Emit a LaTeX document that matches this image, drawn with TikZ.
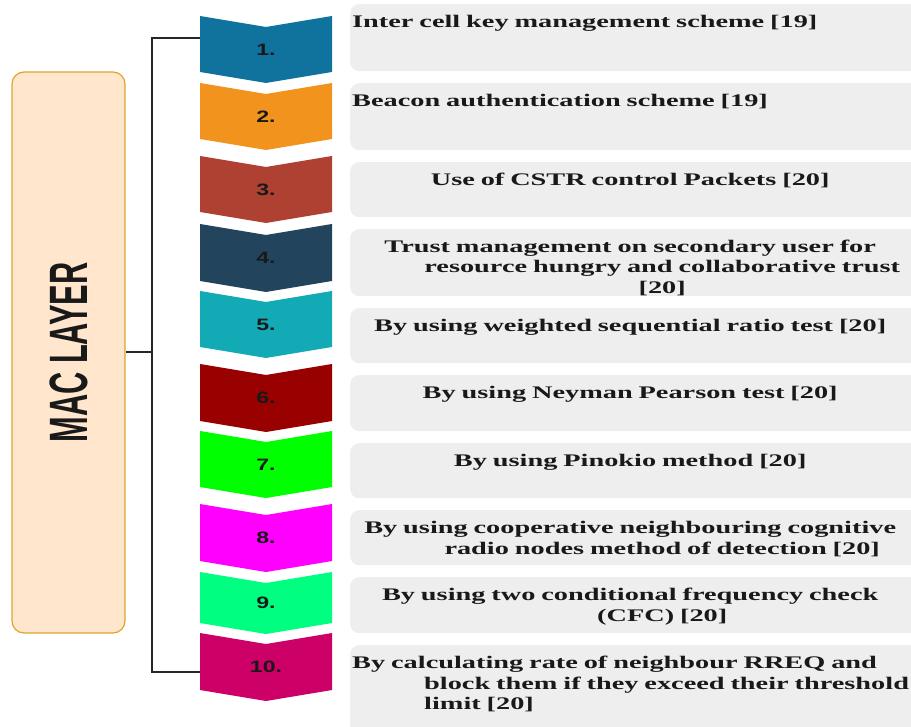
\documentclass[tikz,border=0pt]{standalone}
\usepackage{fontspec}
\usepackage{xcolor}
\definecolor{mblue}{HTML}{10739E}
\definecolor{morange}{HTML}{F2931E}
\definecolor{mbrick}{HTML}{AE4132}
\definecolor{mnavy}{HTML}{23445D}
\definecolor{mteal}{HTML}{12AAB5}
\definecolor{mred}{HTML}{990000}
\definecolor{mlime}{HTML}{00FF00}
\definecolor{mpink}{HTML}{FF00FF}
\definecolor{mmint}{HTML}{00FF80}
\definecolor{mrose}{HTML}{CC0066}
\definecolor{boxgray}{HTML}{EEEEEE}
\definecolor{macfill}{HTML}{FFE6CC}
\definecolor{macedge}{HTML}{DDA530}
\newfontfamily\boxfont{Liberation Serif}[FakeStretch=1.6]
\newfontfamily\numfont{Liberation Sans}[FakeStretch=1.4]
\newfontfamily\macfont{Liberation Sans}[FakeStretch=0.57]
\usepackage{tikz}
\usetikzlibrary{positioning, calc}
\tikzstyle{macbox} = [draw=macedge, fill=macfill, line width=1.2pt, rounded corners=12pt, text=black!90, font=\macfont\bfseries\fontsize{54}{60}\selectfont]
\tikzstyle{item} = [fill=boxgray, rounded corners=9pt, inner sep=0pt]
\tikzstyle{itemtext} = [anchor=base west, inner sep=0pt, text width=556pt, text=black!90, font=\boxfont\bfseries\fontsize{17.7}{20.5}\selectfont]
\tikzstyle{num} = [inner sep=0pt, text=black!90, font=\numfont\bfseries\fontsize{16.5}{19}\selectfont]
\tikzstyle{link} = [draw=black!85, line width=2pt]
\newcommand{\midhang}[2]{\hangindent=#1\hangafter=1\leftskip=0pt plus 1fil\rightskip=0pt plus 1fil\parfillskip=0pt\relax #2\par}
\newcommand{\lefthang}[2]{\hangindent=#1\hangafter=1\rightskip=0pt plus 1fil\parfillskip=0pt plus 1fil\relax #2\par}
\begin{document}
\begin{tikzpicture}[x=1pt, y=-1pt]
    \useasboundingbox (0,0) rectangle (911,727);

    % layer box
    \node[macbox, rotate=90, minimum width=561pt, minimum height=113pt] (mac) at (68.5,352.5) {MAC LAYER};

    % chevrons
    \foreach \t/\b/\col [count=\i] in {16/72/mblue, 83/139/morange, 156/212/mbrick, 224/281/mnavy, 291/347/mteal, 364/421/mred, 431/487/mlime, 504/561/mpink, 572/623/mmint, 633/690/mrose}{
        \fill[\col] (200,\t) -- (266,\t+11) -- (332,\t) -- (332,\b) -- (266,\b+11) -- (200,\b) -- cycle;
        \node[num] (c\i) at (266,{(\t+\b+11)/2}) {\i.};
    }

    % item boxes
    \foreach \t/\b [count=\i] in {4/71, 83/150, 162/217, 229/296, 308/363, 375/431, 443/498, 510/565, 577/633, 645/745}{
        \node[item, anchor=north west, minimum width=585pt, minimum height={(\b-\t)*1pt}] (b\i) at (350,\t) {};
    }

    % item texts
    \node[itemtext] (x1) at ($(b1.north west)+(2,23.5)$) {Inter cell key management scheme [19]};
    \node[itemtext] (x2) at ($(b2.north west)+(2,23.5)$) {Beacon authentication scheme [19]};
    \node[itemtext] (x3) at ($(b3.north west)+(2,23.5)$) {\midhang{64pt}{Use of CSTR control Packets [20]}};
    \node[itemtext] (x4) at ($(b4.north west)+(2,23.5)$)
    {\midhang{64pt}{\mbox{Trust management on secondary user for}\break \mbox{resource hungry and collaborative trust}\break [20]}};
    \node[itemtext] (x5) at ($(b5.north west)+(2,23.5)$) {\midhang{64pt}{By using weighted sequential ratio test [20]}};
    \node[itemtext] (x6) at ($(b6.north west)+(2,23.5)$) {\midhang{64pt}{By using Neyman Pearson test [20]}};
    \node[itemtext] (x7) at ($(b7.north west)+(2,23.5)$) {\midhang{64pt}{By using Pinokio method [20]}};
    \node[itemtext] (x8) at ($(b8.north west)+(2,23.5)$)
    {\midhang{64pt}{\mbox{By using cooperative neighbouring cognitive}\break \mbox{radio nodes method of detection [20]}}};
    \node[itemtext] (x9) at ($(b9.north west)+(2,23.5)$)
    {\midhang{64pt}{\mbox{By using two conditional frequency check}\break (CFC) [20]}};
    \node[itemtext] (x10) at ($(b10.north west)+(2,23.5)$)
    {\lefthang{72pt}{\mbox{By calculating rate of neighbour RREQ and}\break \mbox{block them if they exceed their threshold}\break limit [20]}};

    % bracket
    \coordinate (c1in) at (200,38);
    \coordinate (c10in) at (200,672);
    \coordinate (spine) at (152,352.5);
    \draw[link] (c1in) -| (spine) |- (c10in);
    \draw[link] (mac.south) -- (spine);
\end{tikzpicture}
\end{document}
